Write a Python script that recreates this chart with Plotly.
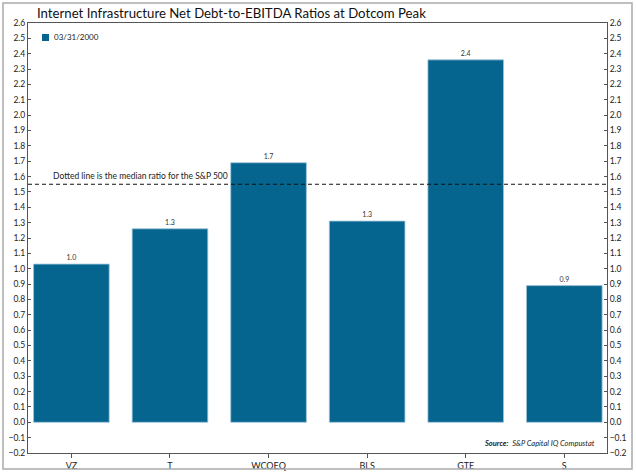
import plotly.graph_objects as go

categories = ["VZ", "T", "WCOEQ", "BLS", "GTE", "S"]
ratios = [1.03, 1.26, 1.69, 1.31, 2.36, 0.89]
series_name = "03/31/2000"
sp500_median = 1.55
title_text = "Internet Infrastructure Net Debt-to-EBITDA Ratios at Dotcom Peak"
note_text = "Dotted line is the median ratio for the S&P 500"

W, H = 636, 472
L, R, T, B = 28, 29, 23, 19
pw, ph = W - L - R, H - T - B

BAR = "#06658F"
AX = "#555555"
TXT = "#222222"
FONT = "Lato"


def px(xp):
    return (xp - L) / pw


def py(yp):
    return (H - B - yp) / ph


fig = go.Figure()
fig.add_trace(go.Bar(
    x=categories, y=ratios, name=series_name,
    marker=dict(color=BAR, line=dict(color="#9cc3dc", width=0.8)),
    texttemplate="%{y:.1f}", textposition="outside",
    textfont=dict(size=7, color="#333333", family=FONT),
    cliponaxis=False, showlegend=False,
))
# invisible trace to drive the right-hand axis
fig.add_trace(go.Scatter(x=categories, y=ratios, yaxis="y2", mode="markers",
                         marker=dict(opacity=0), showlegend=False, hoverinfo="skip"))

fig.add_shape(type="line", xref="paper", yref="y", x0=0, x1=1,
              y0=sp500_median, y1=sp500_median,
              line=dict(color="#111111", width=1, dash="4px,3px"))
fig.add_annotation(text=note_text, xref="paper", yref="y", x=px(51), y=sp500_median,
                   xanchor="left", yanchor="bottom", yshift=1, showarrow=False,
                   font=dict(size=8.5, color=TXT, family=FONT))
fig.add_annotation(text="<b><i>Source:</i></b>  <i>S&P Capital IQ Compustat</i>",
                   xref="paper", yref="paper", x=px(597), y=py(443),
                   xanchor="right", yanchor="middle", showarrow=False,
                   font=dict(size=7.5, color=TXT, family=FONT))
# legend swatch and label
fig.add_shape(type="rect", xref="paper", yref="paper",
              x0=px(42), x1=px(49), y0=py(41), y1=py(34),
              fillcolor=BAR, line=dict(width=0))
fig.add_annotation(text=series_name, xref="paper", yref="paper", x=px(52), y=py(37),
                   xanchor="left", yanchor="middle", showarrow=False,
                   font=dict(size=8, color=TXT, family=FONT))
# outer frame
fig.add_shape(type="rect", xref="paper", yref="paper",
              x0=px(3), x1=px(632), y0=py(469), y1=py(3),
              line=dict(color="#aaaaaa", width=1.5))

yaxis_common = dict(range=[-0.2, 2.6], dtick=0.1, tick0=0, tickformat=".1f",
                    showgrid=False, zeroline=False, showline=True, linecolor=AX,
                    linewidth=1, ticks="inside", ticklen=3, tickcolor=AX,
                    automargin=False,
                    tickfont=dict(size=8.5, color=TXT, family=FONT))

fig.update_layout(
    width=W, height=H,
    margin=dict(l=L, r=R, t=T, b=B, autoexpand=False),
    paper_bgcolor="white", plot_bgcolor="white",
    bargap=0.233,
    title=dict(text=title_text, x=37 / W, xanchor="left", y=1 - 13 / H, yanchor="middle",
               xref="container", yref="container", automargin=False,
               font=dict(size=13.2, color="#111111", family=FONT)),
    xaxis=dict(range=[-0.44, 5.433], showgrid=False, showline=True, linecolor=AX,
               linewidth=1, mirror=True, ticks="outside", ticklen=4, tickcolor=AX,
               automargin=False,
               tickfont=dict(size=9, color=TXT, family=FONT)),
    yaxis=dict(**yaxis_common, side="left"),
    yaxis2=dict(**yaxis_common, side="right", overlaying="y"),
    showlegend=False,
)

fig.write_html("out.html", config={"displayModeBar": False},
               post_script="document.body.style.margin='0';document.body.style.overflow='hidden';")
